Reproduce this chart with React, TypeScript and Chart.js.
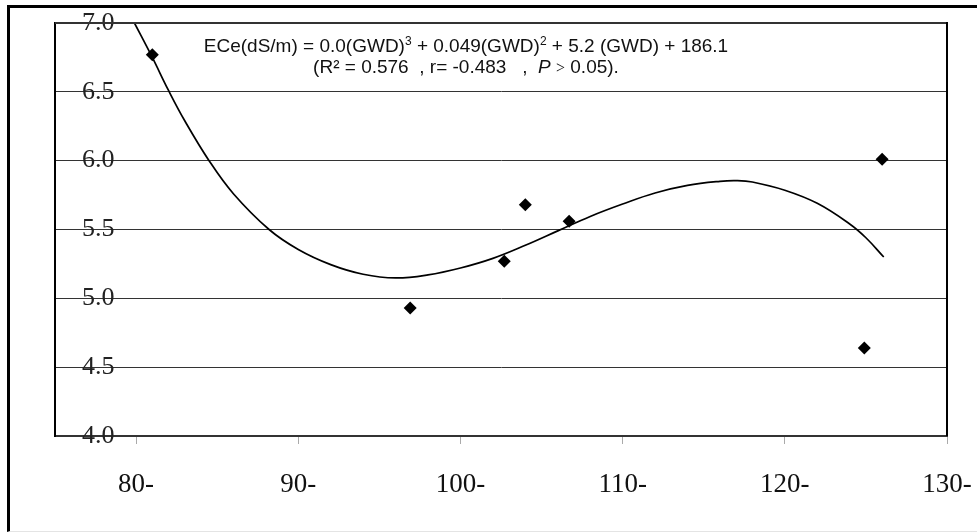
import React, { useEffect, useRef } from 'react';
import { Chart, registerables } from 'chart.js';

Chart.register(...registerables);

// Observed points (GWD, ECe)
const obsGWD = [81.0, 96.9, 102.7, 104.0, 106.7, 124.9, 126.0];
const obsECe = [6.77, 4.93, 5.27, 5.68, 5.56, 4.64, 6.01];

// Fitted trend curve
const fitGWD = [79.9, 81, 82, 83, 84.5, 86, 88.2, 90, 92, 94, 96, 98, 100, 102, 104, 106, 108, 110, 112, 114, 116, 117, 118, 120, 122, 124, 125, 126.1];
const fitECe = [7.0, 6.75, 6.51, 6.29, 6.0, 5.76, 5.5, 5.355, 5.245, 5.175, 5.148, 5.17, 5.22, 5.29, 5.385, 5.49, 5.595, 5.685, 5.765, 5.82, 5.85, 5.855, 5.845, 5.785, 5.69, 5.54, 5.44, 5.3];

// Axis ticks
const xTickValues = [80, 90, 100, 110, 120, 130];
const yTickValues = [4.0, 4.5, 5.0, 5.5, 6.0, 6.5, 7.0];

// Equation text (kind: n = normal, sup = superscript, i = italic, s = symbol)
const eqLine1: [string, string][] = [
  ['n', 'ECe(dS/m) = 0.0(GWD)'],
  ['sup', '3'],
  ['n', ' + 0.049(GWD)'],
  ['sup', '2'],
  ['n', ' + 5.2 (GWD) + 186.1'],
];
const eqLine2: [string, string][] = [
  ['n', '(R\u00B2 = 0.576  , r= -0.483   ,  '],
  ['i', 'P'],
  ['n', ' '],
  ['s', '>'],
  ['n', ' 0.05).'],
];

const SANS = '"Liberation Sans", Arial, sans-serif';
const SERIF = '"Liberation Serif", "Times New Roman", serif';

function segFont(kind: string): string {
  if (kind === 'sup') return `12px ${SANS}`;
  if (kind === 'i') return `italic 19px ${SANS}`;
  if (kind === 's') return `16px ${SERIF}`;
  return `19px ${SANS}`;
}

function drawLine(ctx: CanvasRenderingContext2D, segs: [string, string][], cx: number, baseY: number) {
  let total = 0;
  for (const [k, t] of segs) {
    ctx.font = segFont(k);
    total += ctx.measureText(t).width;
  }
  let x = cx - total / 2;
  for (const [k, t] of segs) {
    ctx.font = segFont(k);
    ctx.fillText(t, x, k === 'sup' ? baseY - 7 : baseY);
    x += ctx.measureText(t).width;
  }
}

const framePlugin = {
  id: 'frameAndText',
  afterDraw(chart: any) {
    const { ctx, chartArea } = chart;
    const { left, right, top } = chartArea;
    ctx.save();
    ctx.strokeStyle = '#333';
    ctx.lineWidth = 2;
    ctx.beginPath();
    ctx.moveTo(left, top);
    ctx.lineTo(right, top);
    ctx.stroke();
    ctx.strokeStyle = '#000';
    ctx.beginPath();
    ctx.moveTo(right, top - 1);
    ctx.lineTo(right, chartArea.bottom);
    ctx.stroke();

    ctx.fillStyle = '#111';
    ctx.textBaseline = 'alphabetic';
    ctx.textAlign = 'left';
    drawLine(ctx, eqLine1, 456, 44);
    drawLine(ctx, eqLine2, 456, 65);
    ctx.restore();
  },
};

export default function App() {
  const canvasRef = useRef<HTMLCanvasElement | null>(null);

  useEffect(() => {
    if (!canvasRef.current) return;
    const chart = new Chart(canvasRef.current, {
      type: 'scatter',
      data: {
        datasets: [
          {
            label: 'fit',
            data: fitGWD.map((x, i) => ({ x, y: fitECe[i] })),
            showLine: true,
            borderColor: '#000',
            borderWidth: 1.7,
            pointRadius: 0,
            tension: 0.4,
            fill: false,
          } as any,
          {
            label: 'obs',
            data: obsGWD.map((x, i) => ({ x, y: obsECe[i] })),
            pointStyle: 'rectRot',
            pointRadius: 6.5,
            backgroundColor: '#000',
            borderColor: '#000',
            borderWidth: 0,
          },
        ],
      },
      options: {
        responsive: false,
        animation: false,
        devicePixelRatio: 1,
        layout: { padding: { left: 0, right: 30, top: 15, bottom: 0 } },
        plugins: {
          legend: { display: false },
          tooltip: { enabled: false },
        },
        scales: {
          x: {
            type: 'linear',
            position: 'bottom',
            min: 75,
            max: 130,
            afterBuildTicks: (scale: any) => {
              scale.ticks = xTickValues.map((v) => ({ value: v }));
            },
            afterFit: (scale: any) => {
              scale.height = 95;
              scale.paddingLeft = 0;
              scale.paddingRight = 0;
            },
            grid: {
              drawOnChartArea: false,
              drawTicks: true,
              tickLength: 8,
              tickColor: '#aaa',
              tickWidth: 1,
            },
            border: { display: true, color: '#333', width: 2 },
            ticks: {
              padding: 25,
              color: '#111',
              font: { family: SERIF, size: 27 },
              callback: (v: any) => `${v}-`,
            },
          },
          y: {
            type: 'linear',
            min: 4,
            max: 7,
            afterBuildTicks: (scale: any) => {
              scale.ticks = yTickValues.map((v) => ({ value: v }));
            },
            afterFit: (scale: any) => {
              scale.width = 45;
              scale.paddingTop = 0;
              scale.paddingBottom = 0;
            },
            grid: {
              drawOnChartArea: true,
              drawTicks: false,
              color: '#333',
              lineWidth: 1,
            },
            border: { display: true, color: '#000', width: 2 },
            ticks: {
              mirror: true,
              padding: 27,
              color: '#222',
              font: { family: SERIF, size: 26 },
              callback: (v: any) => Number(v).toFixed(1),
            },
          },
        },
      },
      plugins: [framePlugin],
    });
    return () => chart.destroy();
  }, []);

  return (
    <div
      style={{
        position: 'fixed',
        left: 7,
        top: 5,
        width: 967,
        height: 523,
        borderLeft: '3px solid #000',
        borderTop: '3px solid #000',
        borderBottom: '1px solid #e4e4e4',
        background: '#fff',
      }}
    >
      <canvas ref={canvasRef} width={967} height={523} style={{ display: 'block' }} />
    </div>
  );
}
